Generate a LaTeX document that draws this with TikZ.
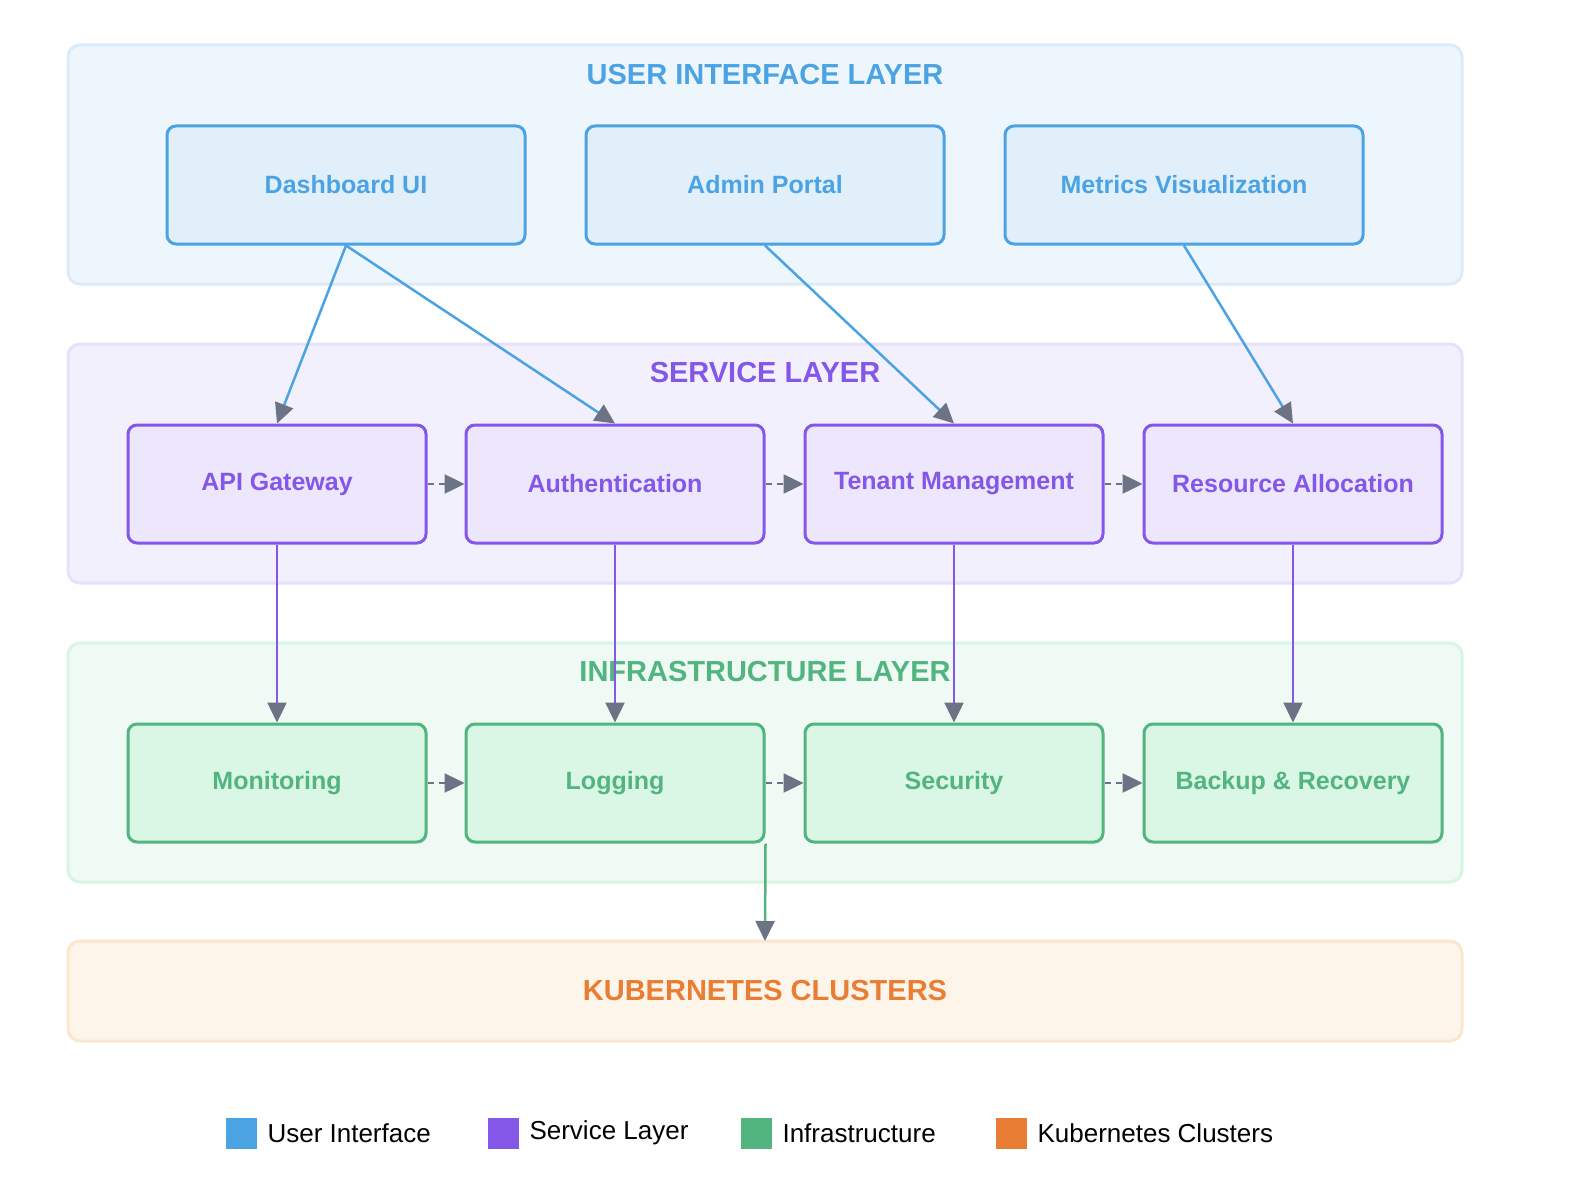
\documentclass[tikz,border=0pt]{standalone}
\usepackage{fontspec}
\setmainfont{Liberation Sans}
\usetikzlibrary{arrows.meta}
\definecolor{uiC}{HTML}{4BA3E3}\definecolor{uiL}{HTML}{EEF6FD}\definecolor{uiLB}{HTML}{DCEBFA}\definecolor{uiN}{HTML}{E1EFFB}
\definecolor{svC}{HTML}{8457E8}\definecolor{svL}{HTML}{F3F0FD}\definecolor{svLB}{HTML}{E6E0FA}\definecolor{svN}{HTML}{ECE7FC}
\definecolor{inC}{HTML}{52B47F}\definecolor{inL}{HTML}{EEFAF3}\definecolor{inLB}{HTML}{D7F5E3}\definecolor{inN}{HTML}{DAF6E5}
\definecolor{kC}{HTML}{EA7D34}\definecolor{kL}{HTML}{FEF5EA}\definecolor{kLB}{HTML}{FBE7CF}
\definecolor{ag}{HTML}{6B7385}
\begin{document}
\begin{tikzpicture}[x=1pt,y=-1pt,
 layer/.style={draw=#1LB,fill=#1L,line width=3,rounded corners=12},
 box/.style={draw=#1C,fill=#1N,line width=3,rounded corners=9,minimum width=298,minimum height=118,text=#1C,font=\bfseries\fontsize{25}{28}\selectfont},
 ttl/.style={text=#1,font=\bfseries\fontsize{29}{32}\selectfont},
 arr/.style={draw=#1,line width=2.5,-{Triangle[length=20,width=19,color=ag]}},
 darr/.style={draw=ag,line width=2.5,dash pattern=on 6 off 5,-{Triangle[length=20,width=19,color=ag]}},
 leg/.style={font=\fontsize{26}{30}\selectfont,anchor=west}]
\useasboundingbox (0,0) rectangle (1574,1204);
\fill[white] (0,0) rectangle (1574,1204);
\draw[layer=ui] (68,45) rectangle (1462,284);
\draw[layer=sv] (68,344) rectangle (1462,583);
\draw[layer=in] (68,643) rectangle (1462,882);
\draw[layer=k] (68,941) rectangle (1462,1041);
\node[ttl=uiC] (t1) at (765,75) {USER INTERFACE LAYER};
\node[ttl=svC] (t2) at (765,373) {SERVICE LAYER};
\node[ttl=inC] (t3) at (765,672) {INFRASTRUCTURE LAYER};
\node[ttl=kC] (k) at (765,991) {KUBERNETES CLUSTERS};
\coordinate (ktop) at (765,941);
\node[box=ui,minimum width=358] (dash) at (346,185) {Dashboard UI};
\node[box=ui,minimum width=358] (admin) at (765,185) {Admin Portal};
\node[box=ui,minimum width=358] (metr) at (1184,185) {Metrics Visualization};
\node[box=sv] (api) at (277,484) {API Gateway};
\node[box=sv] (auth) at (615,484) {Authentication};
\node[box=sv] (ten) at (954,484) {Tenant Management};
\node[box=sv] (res) at (1293,484) {Resource Allocation};
\node[box=in] (mon) at (277,783) {Monitoring};
\node[box=in] (log) at (615,783) {Logging};
\node[box=in] (sec) at (954,783) {Security};
\node[box=in] (bak) at (1293,783) {Backup \& Recovery};
\draw[arr=uiC] (dash.south) -- (api.north);
\draw[arr=uiC] (dash.south) -- (auth.north);
\draw[arr=uiC] (admin.south) -- (ten.north);
\draw[arr=uiC] (metr.south) -- (res.north);
\draw[darr] (api.east) -- (auth.west);
\draw[darr] (auth.east) -- (ten.west);
\draw[darr] (ten.east) -- (res.west);
\draw[darr] (mon.east) -- (log.west);
\draw[darr] (log.east) -- (sec.west);
\draw[darr] (sec.east) -- (bak.west);
\draw[arr=svC] (api.south) -- (mon.north);
\draw[arr=svC] (auth.south) -- (log.north);
\draw[arr=svC] (ten.south) -- (sec.north);
\draw[arr=svC] (res.south) -- (bak.north);
\draw[arr=inC] (log.south east) -- (ktop);
\fill[uiC] (226,1118) rectangle (257,1149); \node[leg] (l1) at (264,1133) {User Interface};
\fill[svC] (488,1118) rectangle (519,1149); \node[leg] (l2) at (526,1133) {Service Layer};
\fill[inC] (741,1118) rectangle (772,1149); \node[leg] (l3) at (779,1133) {Infrastructure};
\fill[kC] (996,1118) rectangle (1027,1149); \node[leg] (l4) at (1034,1133) {Kubernetes Clusters};
\end{tikzpicture}
\end{document}
